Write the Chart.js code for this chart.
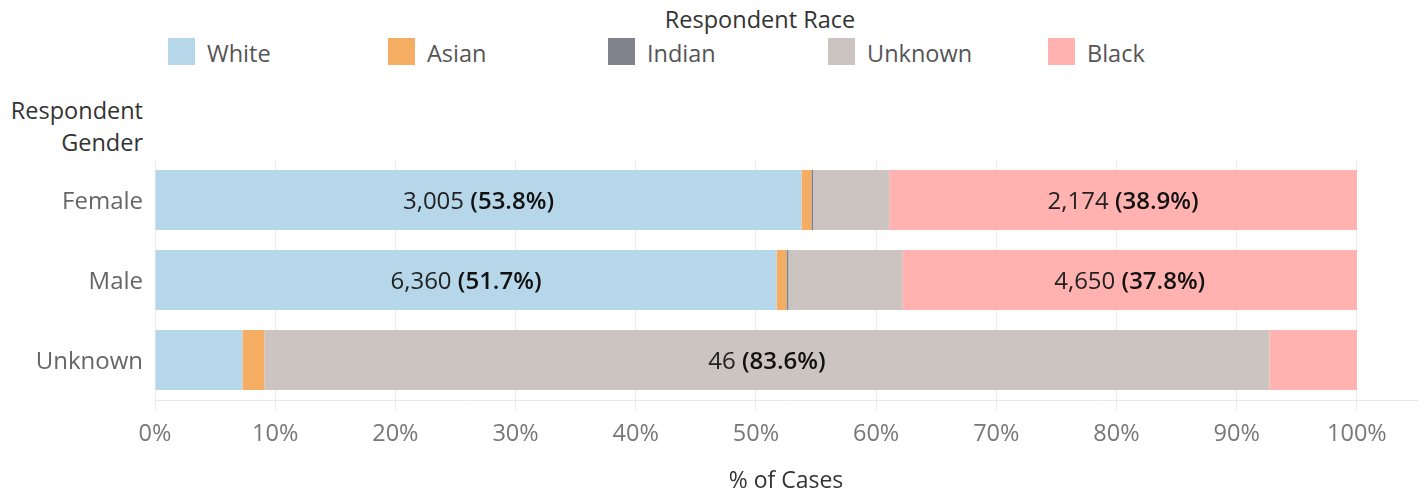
<!DOCTYPE html>
<html>
<head>
<meta charset="utf-8">
<script src="https://cdn.jsdelivr.net/npm/chart.js@4/dist/chart.umd.min.js"></script>
<style>
  html, body { margin: 0; padding: 0; background: #fff; }
  body { width: 1424px; height: 493px; position: relative; overflow: hidden; font-family: "Open Sans", "Noto Sans", sans-serif; }
  #chart { position: absolute; left: 0; top: 0; }
  .legend-title { position: absolute; top: 3px; left: 0; width: 1520px; text-align: center; font-size: 23.5px; color: #333; }
  .legend-item { position: absolute; top: 38px; height: 27px; display: flex; align-items: center; }
  .legend-box { width: 27px; height: 27px; margin-right: 12px; }
  .legend-text { font-size: 23.5px; color: #555; line-height: 27px; padding-top: 3px; }
  .gender-title { position: absolute; right: calc(1424px - 143px); top: 94px; text-align: right; font-size: 23.5px; color: #333; line-height: 32px; }
</style>
</head>
<body>
<div class="legend-title">Respondent Race</div>
<div id="legend"></div>
<div class="gender-title">Respondent<br>Gender</div>
<canvas id="chart" width="1424" height="493"></canvas>
<script>
const categories = ['Female', 'Male', 'Unknown'];
const raceNames = ['White', 'Asian', 'Indian', 'Unknown', 'Black'];
const whiteCases = [3005, 6360, 4];
const asianCases = [46, 102, 1];
const indianCases = [8, 20, 0];
const unknownCases = [354, 1168, 46];
const blackCases = [2174, 4650, 4];
const raceColors = ['#B6D7EA', '#F5AD63', '#80838B', '#CBC4C1', '#FFB2B0'];
const xTickValues = [0, 10, 20, 30, 40, 50, 60, 70, 80, 90, 100];

const seriesCounts = [whiteCases, asianCases, indianCases, unknownCases, blackCases];
const totals = categories.map((_, i) => seriesCounts.reduce((s, arr) => s + arr[i], 0));

// legend (HTML)
const legendEl = document.getElementById('legend');
raceNames.forEach((name, i) => {
  const item = document.createElement('div');
  item.className = 'legend-item';
  item.style.left = (168 + i * 220) + 'px';
  const box = document.createElement('div');
  box.className = 'legend-box';
  box.style.background = raceColors[i];
  const txt = document.createElement('span');
  txt.className = 'legend-text';
  txt.textContent = name;
  item.appendChild(box); item.appendChild(txt);
  legendEl.appendChild(item);
});

const datasets = raceNames.map((name, i) => ({
  label: name,
  counts: seriesCounts[i],
  data: seriesCounts[i].map((c, j) => c / totals[j] * 100),
  backgroundColor: raceColors[i],
  borderWidth: 0,
  barPercentage: 0.75,
  categoryPercentage: 1.0
}));

const FONT = '"Open Sans", "Noto Sans", sans-serif';

const labelPlugin = {
  id: 'segLabels',
  afterDatasetsDraw(chart) {
    const ctx = chart.ctx;
    ctx.save();
    ctx.textBaseline = 'middle';
    const normalFont = '24px ' + FONT;
    const boldFont = '600 24px ' + FONT;
    chart.data.datasets.forEach((ds, di) => {
      const meta = chart.getDatasetMeta(di);
      meta.data.forEach((el, j) => {
        const count = ds.counts[j];
        const pct = ds.data[j];
        const w = Math.abs(el.x - el.base);
        const part1 = count.toLocaleString('en-US') + ' ';
        const part2 = '(' + pct.toFixed(1) + '%)';
        ctx.font = normalFont;
        const w1 = ctx.measureText(part1).width;
        ctx.font = boldFont;
        const w2 = ctx.measureText(part2).width;
        const tw = w1 + w2;
        if (tw + 20 > w) return;
        const cx = (el.x + el.base) / 2;
        const x = cx - tw / 2;
        const y = el.y + 2;
        ctx.textAlign = 'left';
        ctx.fillStyle = '#222';
        ctx.font = normalFont;
        ctx.fillText(part1, x, y);
        ctx.font = boldFont;
        ctx.fillStyle = '#111';
        ctx.fillText(part2, x + w1, y);
      });
    });
    ctx.restore();
  }
};

new Chart(document.getElementById('chart'), {
  type: 'bar',
  data: { labels: categories, datasets },
  plugins: [labelPlugin],
  options: {
    indexAxis: 'y',
    responsive: false,
    animation: false,
    layout: { padding: { top: 160, right: 7, left: 0, bottom: 0 } },
    plugins: { legend: { display: false }, tooltip: { enabled: false } },
    scales: {
      x: {
        type: 'linear',
        stacked: true,
        min: 0,
        max: 105,
        z: 1,
        afterBuildTicks: (s) => { s.ticks = xTickValues.map(v => ({ value: v })); },
        afterFit: (s) => { s.height = 93; },
        grid: { color: 'rgba(200,200,200,0.35)', tickLength: 10, lineWidth: 1 },
        border: { display: true, color: '#e8e8e8' },
        ticks: {
          padding: 10,
          color: '#777',
          font: { family: FONT, size: 23.5 },
          callback: (v) => v + '%',
          maxRotation: 0,
          autoSkip: false
        },
        title: {
          display: true,
          text: '% of Cases',
          color: '#333',
          font: { family: FONT, size: 23 },
          padding: { top: 4, bottom: -2 }
        }
      },
      y: {
        stacked: true,
        afterFit: (s) => { s.width = 155; },
        grid: { display: false, drawTicks: false },
        border: { display: false },
        ticks: { padding: 12, labelOffset: 2, color: '#666', font: { family: FONT, size: 24 } }
      }
    }
  }
});
</script>
</body>
</html>
